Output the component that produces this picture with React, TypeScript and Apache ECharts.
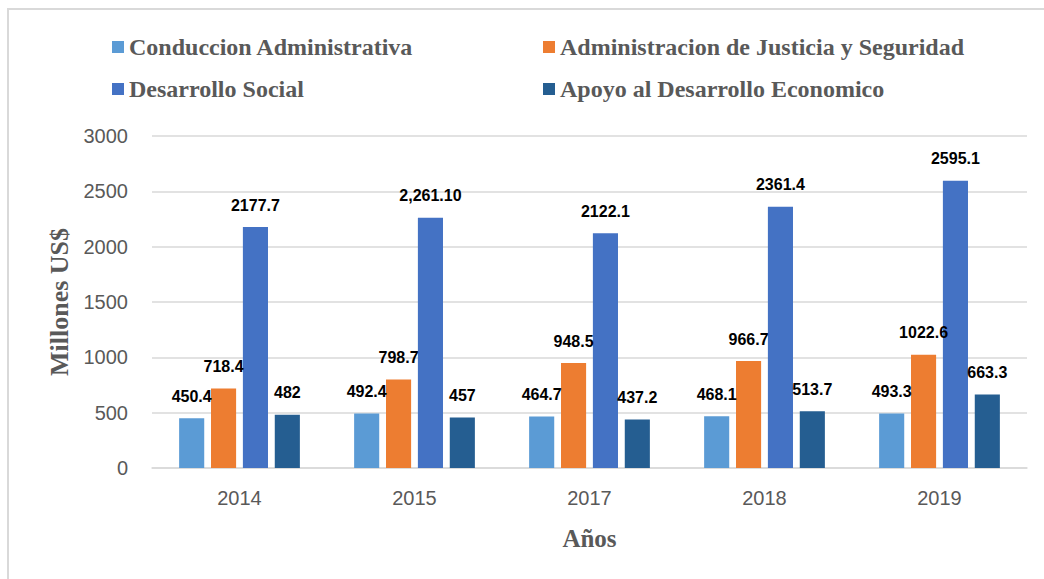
import React, { useEffect, useRef } from "react";
import * as echarts from "echarts";

const years = ["2014", "2015", "2017", "2018", "2019"];
const seriesNames = [
  "Conduccion Administrativa",
  "Administracion de Justicia y Seguridad",
  "Desarrollo Social",
  "Apoyo al Desarrollo Economico",
];
const conduccion = [450.4, 492.4, 464.7, 468.1, 493.3];
const justicia = [718.4, 798.7, 948.5, 966.7, 1022.6];
const desarrollo = [2177.7, 2261.1, 2122.1, 2361.4, 2595.1];
const apoyo = [482, 457, 437.2, 513.7, 663.3];
const desarrolloLabels = ["2177.7", "2,261.10", "2122.1", "2361.4", "2595.1"];
const colors = ["#5B9BD5", "#ED7D31", "#4472C4", "#255E91"];
const yTicks = { min: 0, max: 3000, interval: 500 };

export default function App() {
  const ref = useRef<HTMLDivElement>(null);
  useEffect(() => {
    if (!ref.current) return;
    const chart = echarts.init(ref.current, null, { renderer: "svg" });
    const labelStyle = {
      show: true,
      position: "top",
      distance: 14,
      color: "#000000",
      fontFamily: "Liberation Sans",
      fontWeight: "bold",
      fontSize: 16,
    };
    const values = [conduccion, justicia, desarrollo, apoyo];
    const legendPos = [
      { left: 112, top: 35 },
      { left: 543, top: 35 },
      { left: 112, top: 77 },
      { left: 543, top: 77 },
    ];
    chart.setOption({
      animation: false,
      color: colors,
      graphic: [
        {
          type: "rect",
          shape: { x: 8, y: 9, width: 1100, height: 620 },
          style: { fill: "none", stroke: "#d9d9d9", lineWidth: 2 },
          silent: true,
        },
      ],
      legend: seriesNames.map((n, i) => ({
        data: [n],
        left: legendPos[i].left,
        top: legendPos[i].top,
        padding: 0,
        itemWidth: 12,
        itemHeight: 12,
        icon: "rect",
        textStyle: {
          color: "#595959",
          fontFamily: "Liberation Serif",
          fontWeight: "bold",
          fontSize: 24,
        },
      })),
      grid: { left: 152, right: 17, top: 136, bottom: 111 },
      xAxis: {
        type: "category",
        data: years,
        name: "Años",
        nameLocation: "middle",
        nameGap: 58,
        nameTextStyle: {
          color: "#595959",
          fontFamily: "Liberation Serif",
          fontWeight: "bold",
          fontSize: 25,
        },
        axisLine: { lineStyle: { color: "#d9d9d9", width: 1.5 } },
        axisTick: { show: false },
        axisLabel: {
          color: "#595959",
          fontFamily: "Liberation Sans",
          fontSize: 20,
          margin: 20,
        },
      },
      yAxis: {
        type: "value",
        min: yTicks.min,
        max: yTicks.max,
        interval: yTicks.interval,
        name: "Millones US$",
        nameLocation: "middle",
        nameGap: 80,
        nameTextStyle: {
          color: "#595959",
          fontFamily: "Liberation Serif",
          fontWeight: "bold",
          fontSize: 26,
        },
        axisLine: { show: false },
        axisTick: { show: false },
        splitLine: { lineStyle: { color: "#d9d9d9", width: 1.5 } },
        axisLabel: {
          color: "#595959",
          fontFamily: "Liberation Sans",
          fontSize: 20,
          margin: 24,
          formatter: (v: number) => String(v),
        },
      },
      series: seriesNames.map((n, i) => ({
        name: n,
        type: "bar",
        data: values[i],
        barGap: "27%",
        barCategoryGap: "31%",
        label: {
          ...labelStyle,
          formatter: (p: any) =>
            i === 2 ? desarrolloLabels[p.dataIndex] : String(p.value),
        },
      })),
    });
    return () => chart.dispose();
  }, []);
  return (
    <div
      ref={ref}
      style={{ position: "fixed", left: 0, top: 0, width: 1044, height: 579, background: "#fff" }}
    />
  );
}
